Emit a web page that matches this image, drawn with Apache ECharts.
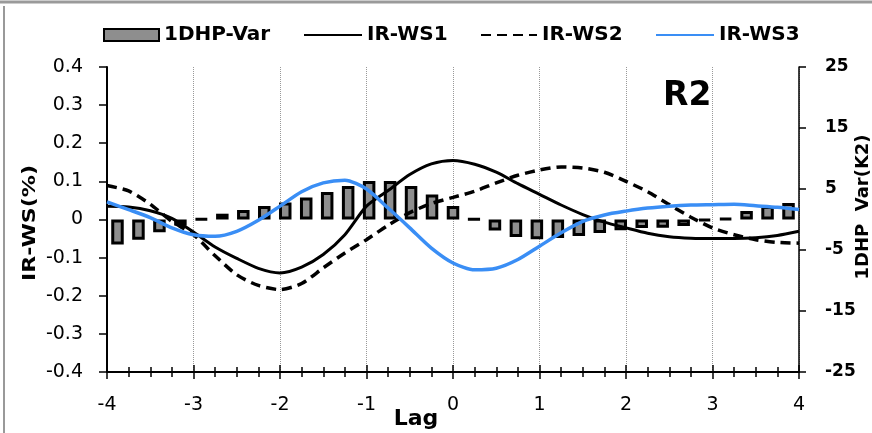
<!DOCTYPE html>
<html>
<head>
<meta charset="utf-8">
<script src="https://cdn.jsdelivr.net/npm/echarts@6/dist/echarts.min.js"></script>
<style>
html, body { margin: 0; padding: 0; background: #fff; }
#chart { width: 872px; height: 433px; }
</style>
</head>
<body>
<div id="chart"></div>
<script>
// lag steps (x), 33 points
var lags = [-4, -3.75, -3.5, -3.25, -3, -2.75, -2.5, -2.25, -2, -1.75, -1.5, -1.25, -1, -0.75, -0.5, -0.25,
            0, 0.25, 0.5, 0.75, 1, 1.25, 1.5, 1.75, 2, 2.25, 2.5, 2.75, 3, 3.25, 3.5, 3.75, 4];

// 1DHP-Var (right axis, K2)
var hdpVar = [-4.1, -3.3, -2.1, -1.0, 0.1, 0.95, 1.55, 2.2, 2.8, 3.6, 4.5, 5.5, 6.3, 6.3, 5.5, 4.1,
              2.2, 0.05, -1.8, -2.85, -3.25, -3.05, -2.7, -2.2, -1.75, -1.4, -1.35, -1.05, -0.2, 0.15, 1.4, 2.2, 2.7];

// IR-WS series (left axis, %)
var irWs1 = [0.035, 0.033, 0.023, 0.003, -0.033, -0.072, -0.102, -0.128, -0.14, -0.125, -0.092, -0.04, 0.035, 0.076, 0.118, 0.146,
             0.155, 0.145, 0.124, 0.094, 0.066, 0.038, 0.013, -0.007, -0.022, -0.036, -0.045, -0.049, -0.05, -0.05, -0.048, -0.042, -0.031];
var irWs2 = [0.089, 0.075, 0.04, -0.005, -0.04, -0.095, -0.145, -0.173, -0.184, -0.168, -0.127, -0.088, -0.053, -0.015, 0.018, 0.042,
             0.058, 0.074, 0.096, 0.116, 0.13, 0.138, 0.135, 0.124, 0.10, 0.073, 0.039, 0.006, -0.022, -0.04, -0.053, -0.06, -0.062];
var irWs3 = [0.046, 0.026, 0.005, -0.022, -0.04, -0.044, -0.031, -0.002, 0.035, 0.073, 0.096, 0.103, 0.08, 0.03, -0.022, -0.075,
             -0.114, -0.132, -0.128, -0.105, -0.07, -0.035, -0.005, 0.012, 0.022, 0.03, 0.035, 0.038, 0.039, 0.04, 0.036, 0.032, 0.026];

var FONT = '"DejaVu Sans", "Liberation Sans", sans-serif';

function pairs(ys) {
    return lags.map(function (x, i) { return [x, ys[i]]; });
}

var chart = echarts.init(document.getElementById('chart'));

var legendText = { color: '#000', fontSize: 20, fontWeight: 'bold', fontFamily: FONT };
var noSymbol = { color: 'rgba(0,0,0,0)', borderWidth: 0 };

var option = {
    animation: false,
    backgroundColor: '#fff',
    grid: { left: 107, right: 73, top: 67, bottom: 61 },
    legend: [
        { data: ['1DHP-Var'], left: 103, top: 25, padding: 0, icon: 'rect', itemWidth: 55, itemHeight: 12, textStyle: legendText },
        { data: ['IR-WS1'], left: 303, top: 25, padding: 0, itemWidth: 58, itemHeight: 14, itemStyle: noSymbol, textStyle: legendText },
        { data: ['IR-WS2'], left: 480, top: 25, padding: 0, itemWidth: 56, itemHeight: 14, itemStyle: noSymbol, textStyle: legendText },
        { data: ['IR-WS3'], left: 655, top: 25, padding: 0, itemWidth: 58, itemHeight: 14, itemStyle: noSymbol, textStyle: legendText }
    ],
    xAxis: [
        {
            type: 'value', min: -4, max: 4, interval: 1, position: 'bottom',
            axisLine: { onZero: false, lineStyle: { color: '#000', width: 2 } },
            axisTick: { show: true, length: 7, lineStyle: { color: '#000', width: 1.5 } },
            minorTick: { show: true, splitNumber: 4, length: 5, lineStyle: { color: '#000', width: 1.5 } },
            axisLabel: { margin: 24, color: '#000', fontSize: 19, fontFamily: FONT },
            splitLine: { show: true, lineStyle: { type: 'dotted', color: '#999', width: 1 } }
        },
        {
            type: 'value', min: -4, max: 4, interval: 1, position: 'bottom',
            axisLine: { show: false, onZero: false },
            axisTick: { show: true, inside: true, length: 7, lineStyle: { color: '#000', width: 1.5 } },
            minorTick: { show: true, splitNumber: 4, length: 5, lineStyle: { color: '#000', width: 1.5 } },
            axisLabel: { show: false },
            splitLine: { show: false }
        },
        {
            type: 'category', data: lags, boundaryGap: true, position: 'top', show: false,
            axisLine: { onZero: false }
        }
    ],
    yAxis: [
        {
            type: 'value', min: -0.4, max: 0.4, interval: 0.1, position: 'left',
            axisLine: { show: true, onZero: false, lineStyle: { color: '#000', width: 2 } },
            axisTick: { show: true, length: 8, lineStyle: { color: '#000', width: 1.5 } },
            axisLabel: {
                margin: 24, color: '#000', fontSize: 19, fontFamily: FONT,
                formatter: function (v) { return String(Math.round(v * 10) / 10); }
            },
            splitLine: { show: false }
        },
        {
            type: 'value', min: -25, max: 25, interval: 10, position: 'right',
            axisLine: { show: true, onZero: false, lineStyle: { color: '#000', width: 1.5 } },
            axisTick: { show: true, length: 7, lineStyle: { color: '#000', width: 1.5 } },
            axisLabel: { margin: 26, color: '#000', fontSize: 17, fontWeight: 'bold', fontFamily: FONT },
            splitLine: { show: false }
        }
    ],
    series: [
        {
            name: '1DHP-Var', type: 'bar', xAxisIndex: 2, yAxisIndex: 1,
            data: hdpVar, barWidth: 12.5,
            itemStyle: { color: '#8e8e8e', borderColor: '#000', borderWidth: 3 }
        },
        {
            name: 'IR-WS1', type: 'line', xAxisIndex: 0, yAxisIndex: 0,
            data: pairs(irWs1), symbol: 'none', smooth: 0.25,
            lineStyle: { color: '#000', width: 3 }, itemStyle: { color: '#000' }
        },
        {
            name: 'IR-WS2', type: 'line', xAxisIndex: 0, yAxisIndex: 0,
            data: pairs(irWs2), symbol: 'none', smooth: 0.25,
            lineStyle: { color: '#000', width: 3.5, type: [10, 6] }, itemStyle: { color: '#000' }
        },
        {
            name: 'IR-WS3', type: 'line', xAxisIndex: 0, yAxisIndex: 0,
            data: pairs(irWs3), symbol: 'none', smooth: 0.25,
            lineStyle: { color: '#3a8ef5', width: 3.5 }, itemStyle: { color: '#3a8ef5' }
        }
    ],
    graphic: [
        { type: 'line', shape: { x1: 0, y1: 2, x2: 872, y2: 2 }, style: { stroke: '#9a9a9a', lineWidth: 3 } },
        { type: 'line', shape: { x1: 4, y1: 6, x2: 4, y2: 433 }, style: { stroke: '#777', lineWidth: 1.5 } },
        {
            type: 'text', x: 663, y: 96, z: 10,
            style: { text: 'R2', fill: '#000', font: 'bold 33px ' + FONT, align: 'left', verticalAlign: 'middle' }
        },
        {
            type: 'text', x: 416, y: 419, z: 10,
            style: { text: 'Lag', fill: '#000', font: 'bold 22px ' + FONT, align: 'center', verticalAlign: 'middle' }
        },
        {
            type: 'text', x: 31, y: 223, rotation: Math.PI / 2, scaleX: 1.3, z: 10,
            style: { text: 'IR-WS(%)', fill: '#000', font: 'bold 17px ' + FONT, align: 'center', verticalAlign: 'middle' }
        },
        {
            type: 'text', x: 863, y: 207, rotation: Math.PI / 2, z: 10,
            style: { text: '1DHP  Var(K2)', fill: '#000', font: 'bold 18px ' + FONT, align: 'center', verticalAlign: 'middle' }
        }
    ]
};

chart.setOption(option);
</script>
</body>
</html>
